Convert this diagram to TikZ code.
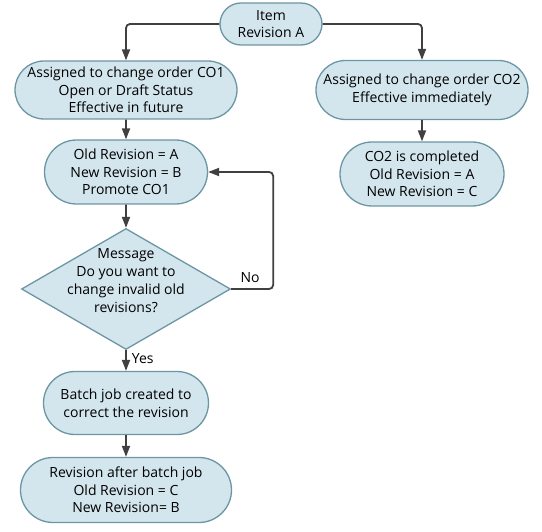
\documentclass[tikz,border=0pt]{standalone}
\usepackage{fontspec}
\setmainfont{Open Sans}
\usepackage{xcolor}
\usetikzlibrary{shapes,positioning,calc,arrows.meta}
\definecolor{lblue}{RGB}{212,230,237}
\definecolor{bteal}{RGB}{108,150,163}
\definecolor{dgray}{RGB}{64,64,64}

\begin{document}
\begin{tikzpicture}[x=1pt, y=-1pt,
    state/.style={rounded rectangle, draw=bteal, fill=lblue, line width=1.3pt, align=center, inner sep=1pt, font=\fontsize{14}{17.7}\selectfont},
    decision/.style={diamond, shape aspect=1.73, draw=bteal, fill=lblue, line width=1.3pt, align=center, inner xsep=-7pt, inner ysep=-15pt, text depth=17pt, font=\fontsize{14}{17.7}\selectfont},
    lab/.style={font=\fontsize{14}{15}\selectfont, inner sep=5pt}]

    \useasboundingbox (0,0) rectangle (542,532);

    \node[state, minimum width=104pt, minimum height=42pt] (Item) at (271,24) {Item\\Revision A};

    % left column
    \node[state, minimum width=220pt, minimum height=58pt] (CO1) at (126,90) {Assigned to change order CO1\\Open or Draft Status\\Effective in future};
    \node[state, minimum width=165pt, minimum height=64pt] (Old) at (126,172) {Old Revision = A\\New Revision = B\\Promote CO1};
    \node[decision, minimum width=209pt, minimum height=121pt] (Message) at (126,289) {Message\\Do you want to\\change invalid old\\revisions?};
    \node[state, minimum width=167pt, minimum height=63pt] (Batch) at (126,403) {Batch job created to\\correct the revision};
    \node[state, minimum width=213pt, minimum height=65pt] (After) at (126,490) {Revision after batch job\\Old Revision = C\\New Revision= B};

    % right column
    \node[state, minimum width=214pt, minimum height=59pt] (CO2) at (422,90) {Assigned to change order CO2\\Effective immediately};
    \node[state, minimum width=166pt, minimum height=64pt] (Done) at (422,174) {CO2 is completed\\Old Revision = A\\New Revision = C};

    \begin{scope}[every path/.style={->, >={Triangle[length=11pt,width=8pt]}, draw=dgray, line width=1.8pt, rounded corners=4pt}]
        \path (Item.west) -| (CO1.north);
        \path (Item.east) -| (CO2.north);
        \path (CO1) -- (Old);
        \path (CO2) -- (Done);
        \path (Old) -- (Message);
        \path (Message) -- node[lab, right, pos=0.4]{Yes} (Batch);
        \path (Message.east) -- node[lab, above, pos=0.45]{No} ++(42,0) |- (Old.east);
        \path (Batch) -- (After);
    \end{scope}

\end{tikzpicture}
\end{document}
